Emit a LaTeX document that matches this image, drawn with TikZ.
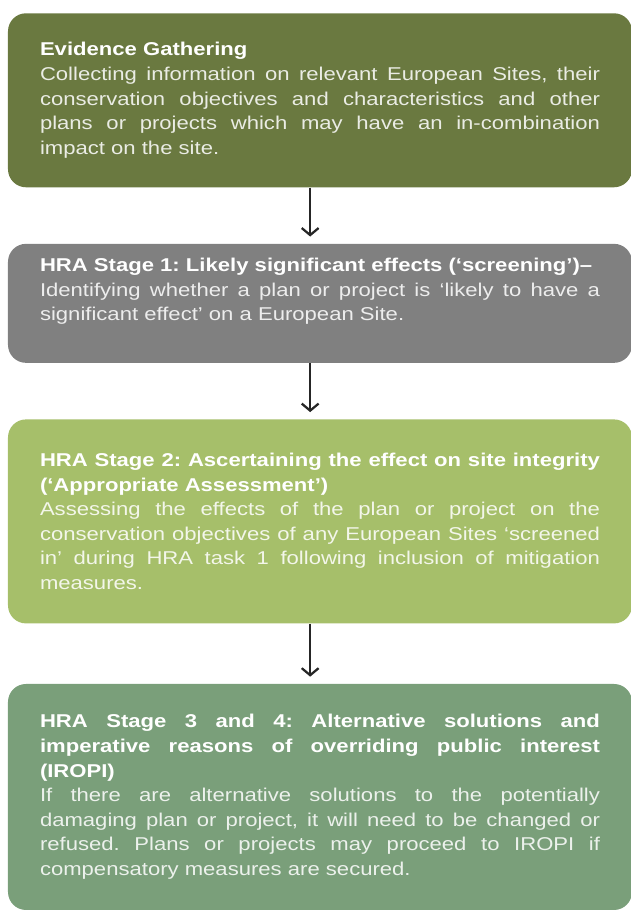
\documentclass[tikz,border=0pt]{standalone}
\usepackage{fontspec}
\setmainfont[FakeStretch=1.19]{Liberation Sans}
\usepackage{tikz}
\usetikzlibrary{positioning,arrows.meta}
\definecolor{evfill}{RGB}{106,121,64}
\definecolor{sonefill}{RGB}{128,128,128}
\definecolor{stwofill}{RGB}{166,191,106}
\definecolor{sthreefill}{RGB}{122,159,122}
\hyphenpenalty=10000
\exhyphenpenalty=10000
\frenchspacing
\newcommand{\stagefont}{\fontsize{13.2}{17.5}\selectfont}
\newcommand{\stagehead}[1]{\textcolor{white}{\textbf{#1}}}
\tikzset{
  >={Straight Barb[length=5pt,width=12pt]},
  stagebox/.style={rectangle, rounded corners=0.45cm, fill=#1, text=white!86!#1,
                   text width=14cm, inner xsep=0.8cm, inner ysep=0pt,
                   align=justify, font=\stagefont},
  link/.style={draw=black!85, line width=1.6pt, ->, shorten >=5pt}
}

\begin{document}
\begin{tikzpicture}
\useasboundingbox (0,0) rectangle (15.75,-22.75);
\node[stagebox=evfill, minimum height=4.35cm, anchor=north] (ev) at (8.0,-0.325)
  {\stagehead{Evidence Gathering}\\
   Collecting information on relevant European Sites, their\linebreak
   conservation objectives and characteristics and other\linebreak
   plans or projects which may have an in-combination\linebreak
   impact on the site.};
\node[stagebox=sonefill, minimum height=2.975cm, below=1.4cm of ev] (sone)
  {\stagehead{HRA Stage 1: Likely significant effects (‘screening’)–}\\
   Identifying whether a plan or project is ‘likely to have a\linebreak
   significant effect’ on a European Site.\par\vspace*{0.6cm}};
\node[stagebox=stwofill, minimum height=5.1cm, below=1.4cm of sone] (stwo)
  {\stagehead{HRA Stage 2: Ascertaining the effect on site integrity\linebreak
   (‘Appropriate Assessment’)}\\
   Assessing the effects of the plan or project on the\linebreak
   conservation objectives of any European Sites ‘screened\linebreak
   in’ during HRA task 1 following inclusion of mitigation\linebreak
   measures.};
\node[stagebox=sthreefill, minimum height=5.65cm, below=1.5cm of stwo] (sthree)
  {\stagehead{HRA Stage 3 and 4: Alternative solutions and\linebreak
   imperative reasons of overriding public interest\linebreak
   (IROPI)}\\
   If there are alternative solutions to the potentially\linebreak
   damaging plan or project, it will need to be changed or\linebreak
   refused. Plans or projects may proceed to IROPI if\linebreak
   compensatory measures are secured.};
% arrows between the stages
\draw[link] ([xshift=-7pt]ev.south) -- ([xshift=-7pt]sone.north);
\draw[link] ([xshift=-7pt]sone.south) -- ([xshift=-7pt]stwo.north);
\draw[link] ([xshift=-7pt]stwo.south) -- ([xshift=-7pt]sthree.north);
\end{tikzpicture}
\end{document}
